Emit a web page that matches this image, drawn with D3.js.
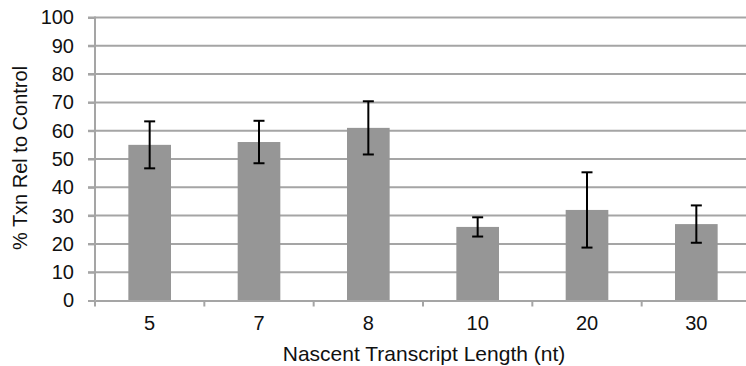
<!DOCTYPE html>
<html><head><meta charset="utf-8">
<script src="https://cdn.jsdelivr.net/npm/d3@7"></script>
<style>body{margin:0;background:#fff;}svg{display:block;font-family:"Liberation Sans",Arial,sans-serif;}</style>
</head><body>
<svg id="c" width="746" height="366"></svg>
<script>
const categories = ["5","7","8","10","20","30"];
const values = [55, 56, 61, 26, 32, 27];
const errors = [8.3, 7.5, 9.4, 3.4, 13.3, 6.6];
const yTicks = [0,10,20,30,40,50,60,70,80,90,100];
const xTitle = "Nascent Transcript Length (nt)";
const yTitle = "% Txn Rel to Control";

const svg = d3.select("#c");
const x = d3.scaleBand().domain(categories).range([95, 751]).paddingInner(0.61).paddingOuter(0.305);
const xTick = d3.scaleBand().domain(categories).range([95, 751]);
const y = d3.scaleLinear().domain([0,100]).range([300.5, 17.5]);
const gridColor = "#a5a5a5";
const font = "Liberation Sans, Arial, sans-serif";

// gridlines
svg.append("g").selectAll("line").data(yTicks.filter(d=>d>0)).join("line")
  .attr("x1", 88).attr("x2", 751).attr("y1", d=>y(d)).attr("y2", d=>y(d))
  .attr("stroke", gridColor).attr("stroke-width", 2);

// y axis
const ya = svg.append("g").attr("transform","translate(95,0)").call(d3.axisLeft(y).tickValues(yTicks).tickSize(7).tickPadding(14));
ya.select(".domain").attr("stroke", gridColor).attr("stroke-width", 2).attr("d", `M0,${y(100)-1}V${y(0)}`);
ya.selectAll(".tick line").attr("stroke", gridColor).attr("stroke-width", 2);
ya.selectAll("text").attr("font-size", 20).attr("fill", "#111").attr("font-family", font);

// bars
svg.append("g").selectAll("rect").data(categories).join("rect")
  .attr("x", d=>x(d)).attr("width", x.bandwidth())
  .attr("y", (d,i)=>y(values[i])).attr("height", (d,i)=>y(0)-y(values[i]))
  .attr("fill", "#969696");

// x axis
const xa = svg.append("g").attr("transform", `translate(0,${y(0)})`).call(d3.axisBottom(xTick).tickSize(0).tickPadding(15));
xa.select(".domain").attr("stroke", gridColor).attr("stroke-width", 2);
xa.selectAll("text").attr("font-size", 20).attr("fill", "#111").attr("font-family", font);
svg.append("g").selectAll("line").data(categories).join("line")
  .attr("x1", d=>xTick(d)).attr("x2", d=>xTick(d)).attr("y1", y(0)).attr("y2", y(0)+6)
  .attr("stroke", gridColor).attr("stroke-width", 2);

// error bars
const eg = svg.append("g").attr("stroke", "#000").attr("stroke-width", 2);
categories.forEach((c,i)=>{
  const cx = x(c) + x.bandwidth()/2;
  const t = y(values[i]+errors[i]), b = y(values[i]-errors[i]);
  eg.append("line").attr("x1",cx).attr("x2",cx).attr("y1",t).attr("y2",b);
  eg.append("line").attr("x1",cx-5.5).attr("x2",cx+5.5).attr("y1",t).attr("y2",t);
  eg.append("line").attr("x1",cx-5.5).attr("x2",cx+5.5).attr("y1",b).attr("y2",b);
});

// titles
svg.append("text").attr("x", 424).attr("y", 361).attr("text-anchor","middle")
  .attr("font-size", 21).attr("fill","#111").text(xTitle);
svg.append("text").attr("transform","translate(27,158) rotate(-90)").attr("text-anchor","middle")
  .attr("font-size", 20).attr("fill","#111").text(yTitle);
</script>
</body></html>
